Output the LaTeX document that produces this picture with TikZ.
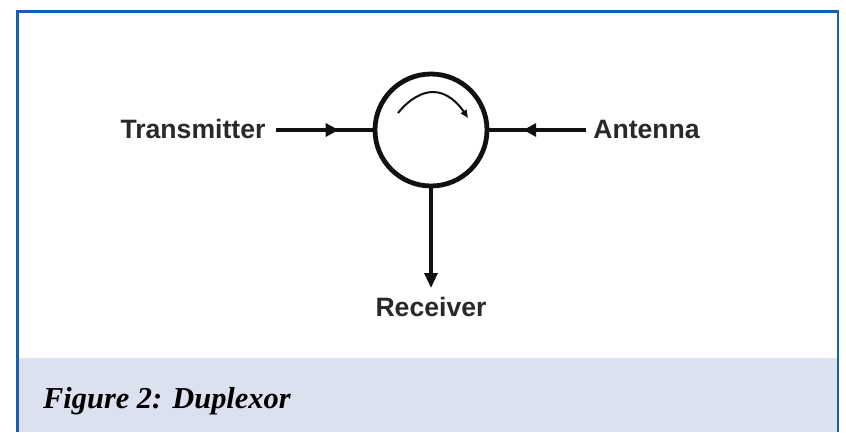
\documentclass[tikz,border=0pt]{standalone}
\usepackage{fontspec}
\setmainfont{Liberation Sans}
\newfontfamily\capfont{Liberation Serif}
\usetikzlibrary{arrows.meta,decorations.markings}
\definecolor{framblue}{HTML}{1560B0}
\definecolor{capfill}{HTML}{DCE1F0}
\definecolor{inkdark}{HTML}{111111}
\tikzset{
  x=1pt,y=-1pt,
  lbl/.style={font=\fontsize{26.6}{29}\selectfont\bfseries,text=inkdark!90,inner sep=0pt,anchor=center},
  wire/.style={line width=3.2pt,draw=inkdark},
  midtip/.style={postaction={decorate},decoration={markings,mark=at position #1 with {\arrow[inkdark]{Triangle[length=13pt,width=13pt]}}}},
  circulator/.style={circle,draw=inkdark,line width=4.8pt,minimum size=112pt,inner sep=0pt,fill=white}
}
\begin{document}
\begin{tikzpicture}
\useasboundingbox (0,0) rectangle (846,432);
\fill[white] (0,0) rectangle (846,432);
\fill[capfill] (18,358) rectangle (838,432);
\draw[framblue,line width=2.7pt] (17.3,432) -- (17.3,11.3) -- (838,11.3) -- (838,432);
\node[circulator] (c) at (431,130) {};
\node[lbl] (tx) at (193,129) {Transmitter};
\node[lbl] (ant) at (646.5,129) {Antenna};
\node[lbl] (rx) at (431,307) {Receiver};
\coordinate (txe) at (275.7,130);
\coordinate (ante) at (586,130);
\coordinate (rxe) at (431,288);
\draw[wire,midtip=0.65] (txe) -- (c.west);
\draw[wire,midtip=0.65] (ante) -- (c.east);
\draw[wire,-{Triangle[length=15pt,width=13pt]}] (c.south) -- (rxe);
\coordinate (as) at (398,113);
\coordinate (ae) at (468,118);
\draw[inkdark,line width=2pt,-{Triangle[length=8pt,width=6.5pt]}] (as) .. controls (410,98) and (423,92) .. (433,92) .. controls (447,92) and (458,103) .. (ae);
\node[font=\capfont\fontsize{30.4}{34}\selectfont\bfseries\itshape,text=black,inner sep=0pt,anchor=west] (cap) at (43,401) {Figure 2: Duplexor};
\end{tikzpicture}
\end{document}
